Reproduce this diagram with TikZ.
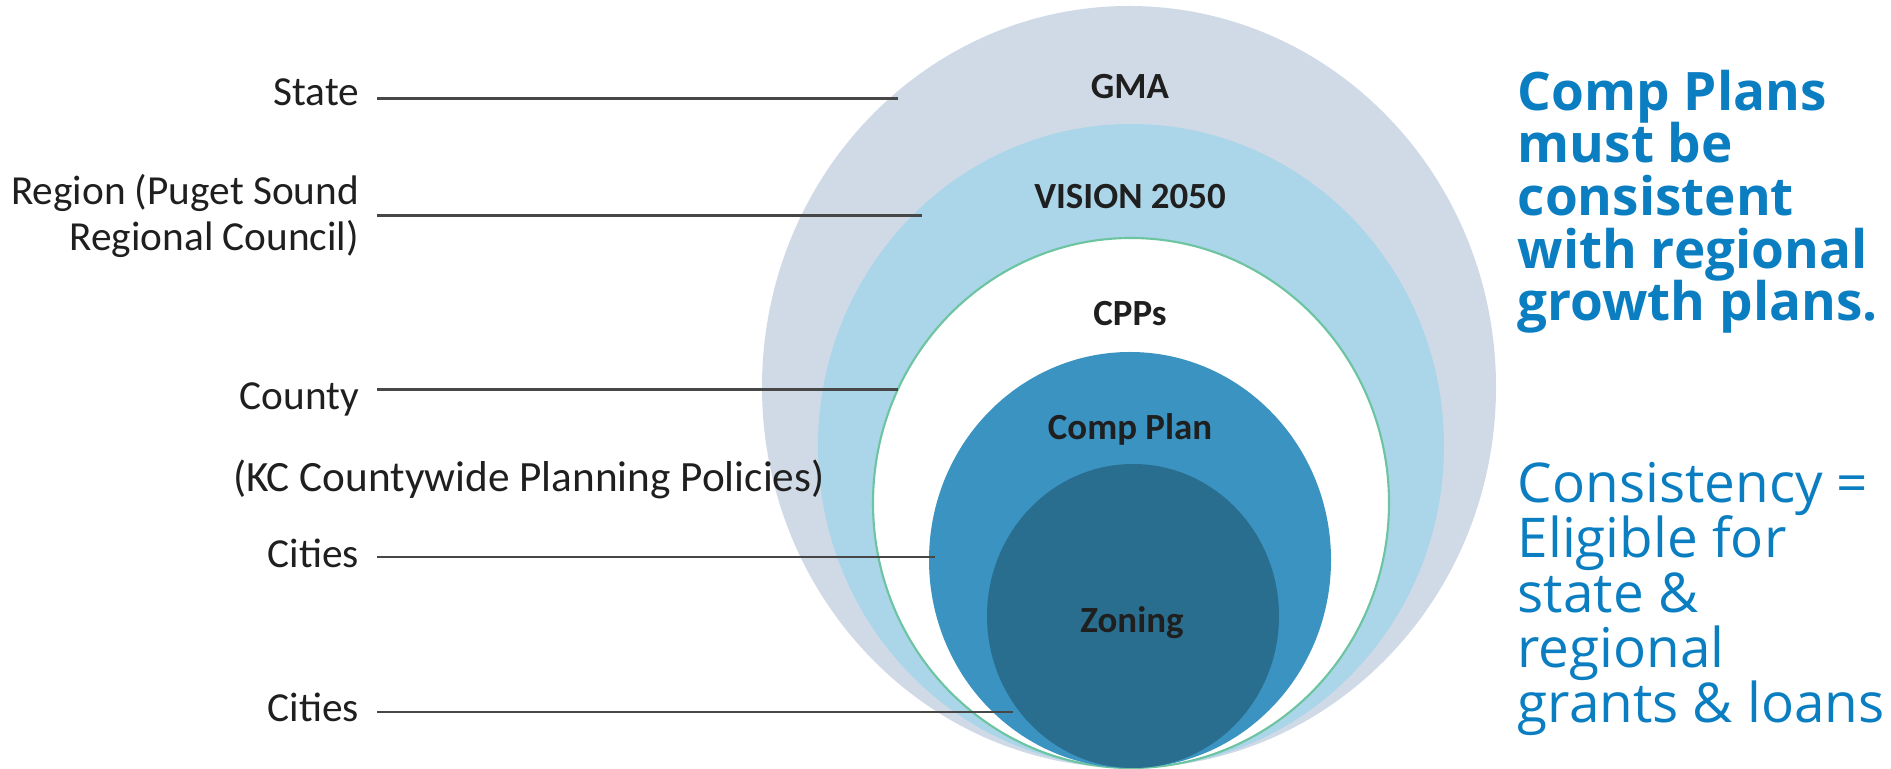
\documentclass[tikz,border=0pt]{standalone}
\usepackage{fontspec}
\setmainfont{Carlito}
\newfontfamily\opensans{Open Sans}
\usepackage{tikz}
\usetikzlibrary{positioning}

\definecolor{gmafill}{HTML}{D0DAE7}
\definecolor{visionfill}{HTML}{ABD5E8}
\definecolor{cppline}{HTML}{6CC4A0}
\definecolor{compfill}{HTML}{3A93C0}
\definecolor{zonefill}{HTML}{2A6E8F}
\definecolor{noteblue}{HTML}{0B7EC1}
\newcommand{\tightskip}{\lineskiplimit=-20pt\relax}

\begin{document}
\begin{tikzpicture}[x=1cm,y=-1cm,
        lvl/.style={anchor=base east, inner sep=0pt, outer xsep=0.18cm, text=black!88,
            font=\fontsize{11.75}{13.1}\selectfont},
        ring/.style={anchor=base, inner sep=0pt, text=black!88,
            font=\bfseries\fontsize{10.5}{12}\selectfont},
        link/.style={draw=black!72, line width=0.85pt},
        note/.style={anchor=north west, inner sep=0pt, align=left, text=noteblue}]
    \clip (0,0) rectangle (18.91,7.69);

    % nested plans
    \fill[gmafill] (11.29,3.87) ellipse [x radius=3.67, y radius=3.81];
    \fill[visionfill] (11.31,4.46) ellipse [x radius=3.13, y radius=3.22];
    \filldraw[fill=white, draw=cppline, line width=0.6pt] (11.31,5.03) ellipse [x radius=2.58, y radius=2.65];
    \fill[compfill] (11.30,5.60) ellipse [x radius=2.01, y radius=2.08];
    \fill[zonefill] (11.33,6.16) ellipse [x radius=1.46, y radius=1.52];

    \node[ring] (gma) at (11.30,0.99) {GMA};
    \node[ring] (vision) at (11.30,2.09) {VISION 2050};
    \node[ring] (cpps) at (11.30,3.26) {CPPs};
    \node[ring] (comp) at (11.30,4.40) {Comp Plan};
    \node[ring] (zoning) at (11.32,6.33) {Zoning};

    % levels on the left
    \node[lvl] (state) at (3.77,1.06) {State};
    \node[lvl, anchor=east, align=right] (region) at (3.77,2.16) {Region (Puget Sound\\Regional Council)};
    \node[lvl] (county) at (3.77,4.10) {County};
    \node[lvl, anchor=base west, outer sep=0pt, font=\fontsize{12.3}{14}\selectfont]
        (kc) at (2.33,4.92) {(KC Countywide Planning Policies)};
    \node[lvl] (cities) at (3.77,5.68) {Cities};
    \node[lvl] (towns) at (3.77,7.22) {Cities};

    \coordinate (s) at (8.98,0.99);
    \coordinate (r) at (9.22,2.16);
    \coordinate (c) at (8.98,3.90);
    \coordinate (ci) at (9.35,5.57);
    \coordinate (t) at (10.13,7.12);

    \draw[link] (state.east |- s) -- (s);
    \draw[link] (region.east |- r) -- (r);
    \draw[link] (county.east |- c) -- (c);
    \draw[link] (cities.east |- ci) -- (ci);
    \draw[link] (towns.east |- t) -- (t);

    % notes on the right
    \node[note, font=\opensans\bfseries\fontsize{15.1}{15.0}\selectfont\tightskip]
        (must) at (15.17,0.69) {Comp Plans\\must be\\consistent\\with regional\\growth plans.};
    \node[note, font=\opensans\fontsize{15.6}{15.6}\selectfont\tightskip]
        (elig) at (15.17,4.62) {Consistency =\\Eligible for\\state \&\\regional\\grants \& loans};
\end{tikzpicture}
\end{document}
